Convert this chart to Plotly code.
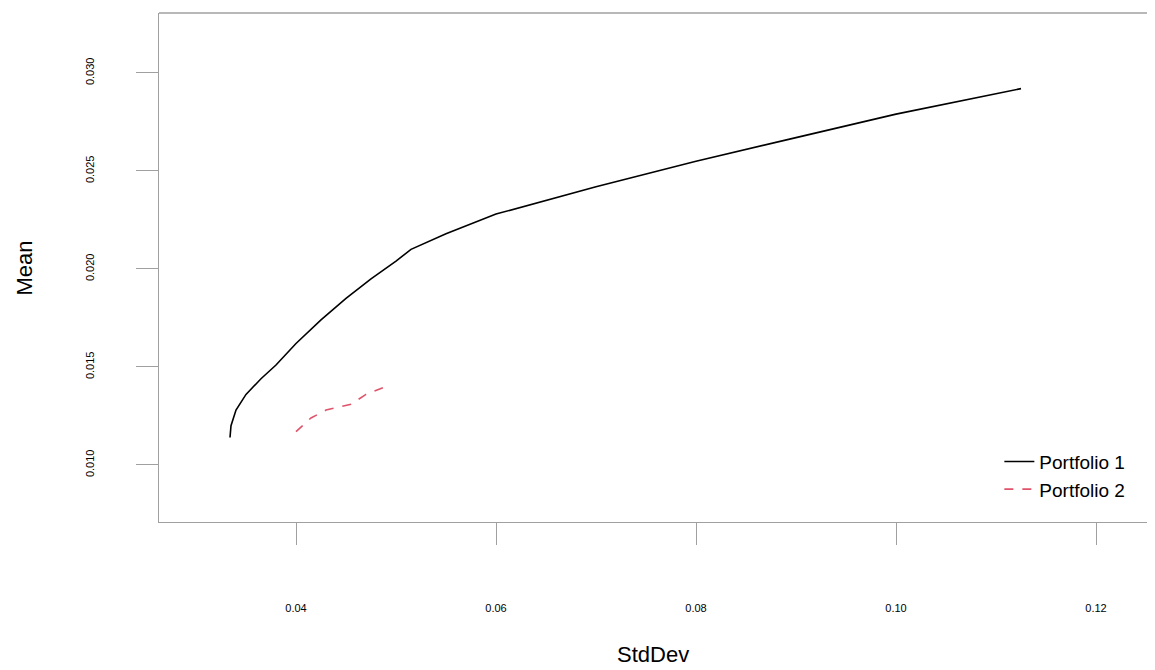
import plotly.graph_objects as go

# Portfolio 1 efficient frontier
sd1 = [0.0334, 0.0335, 0.0340, 0.0350, 0.0365, 0.0380, 0.0400, 0.0425, 0.0450, 0.0475,
       0.0500, 0.0515, 0.0550, 0.0600, 0.0700, 0.0800, 0.0900, 0.1000, 0.1125]
mean1 = [0.0114, 0.0120, 0.0128, 0.0136, 0.0144, 0.0151, 0.0162, 0.0174, 0.0185, 0.0195,
         0.0204, 0.0210, 0.0218, 0.0228, 0.0242, 0.0255, 0.0267, 0.0279, 0.0292]

# Portfolio 2
sd2 = [0.0400, 0.0415, 0.0430, 0.0445, 0.0455, 0.0470, 0.0490]
mean2 = [0.0117, 0.0124, 0.0128, 0.0130, 0.0131, 0.0136, 0.0140]

xticks = [0.04, 0.06, 0.08, 0.10, 0.12]
xlabels = ["0.04", "0.06", "0.08", "0.10", "0.12"]
yticks = [0.010, 0.015, 0.020, 0.025, 0.030]
ylabels = ["0.010", "0.015", "0.020", "0.025", "0.030"]

fig = go.Figure()
fig.add_trace(go.Scatter(x=sd1, y=mean1, mode="lines", name="Portfolio 1",
                         line=dict(color="black", width=1.6)))
fig.add_trace(go.Scatter(x=sd2, y=mean2, mode="lines", name="Portfolio 2",
                         line=dict(color="#DF536B", width=1.6, dash="dash")))

axis_common = dict(showgrid=False, zeroline=False, showline=True,
                   linecolor="#a0a0a0", linewidth=1.3, ticks="outside",
                   tickcolor="#a0a0a0", ticklen=22, tickfont=dict(size=11, color="black"),
                   automargin=False)

fig.update_layout(
    width=1155, height=670,
    margin=dict(l=151, r=0, t=5, b=156),
    paper_bgcolor="white", plot_bgcolor="white",
    font=dict(family="Liberation Sans, Arial", color="black"),
    xaxis=dict(range=[0.0263, 0.1267], tickvals=xticks, ticktext=xlabels,
               ticklabelstandoff=54, **axis_common),
    yaxis=dict(range=[0.00709, 0.03306], tickvals=yticks, ticktext=ylabels, tickangle=-90,
               ticklabelstandoff=37, **axis_common),
    legend=dict(x=0.837, y=0.156, xanchor="left", yanchor="top",
                bgcolor="rgba(0,0,0,0)", font=dict(size=19), tracegroupgap=0),
    shapes=[dict(type="line", xref="paper", yref="paper", x0=0, x1=1, y0=1, y1=1,
                 line=dict(color="#a0a0a0", width=1.3))],
    annotations=[
        dict(text="StdDev", x=0.492, y=-0.261, xref="paper", yref="paper",
             showarrow=False, font=dict(size=22), yanchor="middle"),
        dict(text="Mean", x=-0.1335, y=0.5, xref="paper", yref="paper",
             showarrow=False, font=dict(size=22), textangle=-90, xanchor="center"),
    ],
)

fig.write_html("out.html")
